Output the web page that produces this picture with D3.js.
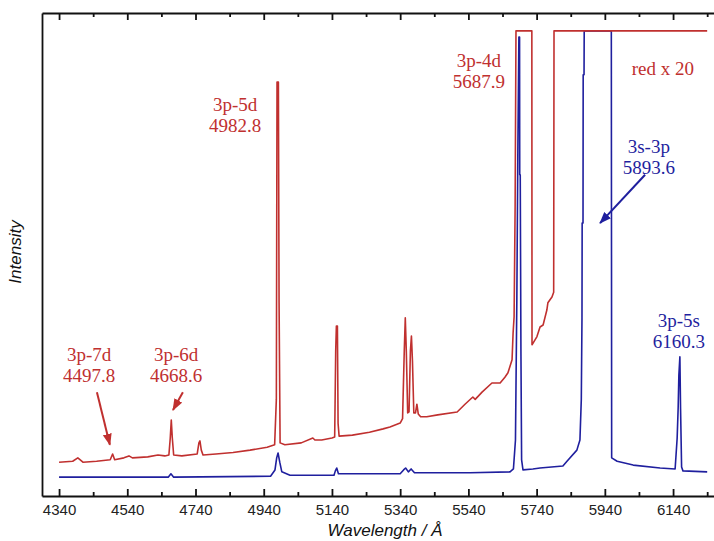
<!DOCTYPE html>
<html>
<head>
<meta charset="utf-8">
<script src="https://cdn.jsdelivr.net/npm/d3@7"></script>
<style>
  html, body { margin: 0; padding: 0; background: #fff; }
  svg { display: block; }
  .tick text { font-family: "Liberation Sans", Arial, sans-serif; font-size: 15px; fill: #222; }
  .note { font-family: "Liberation Serif", "Times New Roman", serif; font-size: 19px; }
</style>
</head>
<body>
<svg id="chart" width="714" height="541"></svg>
<script>
// axis ticks (Angstrom)
const majorTicks = [4340, 4540, 4740, 4940, 5140, 5340, 5540, 5740, 5940, 6140];
const minorTicks = [4440, 4640, 4840, 5040, 5240, 5440, 5640, 5840, 6040, 6240];

// blue spectrum: [wavelength, intensity]
const blueSpectrum = [
  [4340, 3.9], [4660, 3.9], [4668, 4.6], [4676, 3.9], [4960, 4.1], [4973, 5.4],
  [4978, 7.9], [4982, 8.9], [4987, 7.0], [4993, 5.0], [5017, 4.3], [5146, 4.3],
  [5150, 5.2], [5154, 5.8], [5159, 4.6], [5340, 4.6], [5350, 5.4], [5356, 5.8],
  [5364, 5.0], [5372, 5.6], [5382, 4.8], [5400, 4.8], [5545, 4.8], [5662, 5.0],
  [5672, 5.6], [5678, 11.6], [5682, 40.6], [5685, 71.6], [5688, 95.0], [5690, 95.0],
  [5690.5, 66.5], [5692, 66.5], [5694, 30], [5696, 7.5], [5700, 5.4], [5729, 5.6],
  [5750, 5.8], [5817, 6.2], [5829, 7.2], [5858, 9.5], [5867, 11.6], [5871, 20],
  [5873, 37], [5873.5, 56.5], [5876, 56.5], [5876.5, 87.2], [5879, 87.2], [5879.5, 96.3],
  [5959, 96.3], [5960, 7.9], [5976, 7.2], [6023, 6.4], [6102, 5.8], [6146, 5.6],
  [6152, 12], [6155, 18.4], [6157, 25], [6160, 28.8], [6162, 18], [6165, 6],
  [6169, 5.2], [6240, 5.0]
];

// red spectrum (x 20): [wavelength, intensity]
const redSpectrum = [
  [4340, 7.0], [4380, 7.2], [4395, 7.9], [4410, 7.0], [4450, 7.2], [4490, 7.5],
  [4497, 8.7], [4503, 7.5], [4530, 7.9], [4545, 8.3], [4555, 7.9], [4600, 8.1],
  [4630, 8.5], [4650, 8.3], [4662, 8.5], [4666, 12], [4669, 15.7], [4672, 12],
  [4676, 8.5], [4700, 8.3], [4745, 8.7], [4750, 11], [4753, 11.4], [4757, 9.5],
  [4762, 8.5], [4800, 8.7], [4850, 9.0], [4900, 9.5], [4950, 10.1], [4972, 10.6],
  [4977, 20], [4979, 85.7], [4983, 85.7], [4985, 40], [4988, 11], [5002, 10.6],
  [5050, 11.0], [5084, 12.0], [5090, 11.6], [5110, 11.6], [5140, 12.0], [5148, 12.2],
  [5151, 30], [5153, 35.2], [5156, 35.2], [5158, 15], [5161, 12.4], [5200, 12.6],
  [5250, 13.2], [5290, 13.9], [5310, 14.3], [5340, 15.1], [5347, 16], [5352, 30],
  [5355, 36.9], [5358, 30], [5362, 17.2], [5366, 17.4], [5370, 30], [5373, 33.1],
  [5376, 28], [5380, 17.2], [5385, 17.2], [5389, 19.0], [5393, 17], [5400, 16.4],
  [5418, 16.4], [5450, 16.8], [5507, 17.4], [5530, 19], [5553, 20.5], [5560, 20],
  [5580, 21.5], [5609, 23.4], [5633, 23.4], [5647, 24.6], [5656, 25.5], [5668, 28.2],
  [5671, 33.7], [5674, 37.1], [5677, 60], [5679.5, 96.3], [5726, 96.3], [5726.5, 31.3],
  [5741, 33.0], [5750, 35.0], [5759, 35.4], [5770, 38.5], [5773, 40], [5785, 41.2],
  [5790, 42.2], [5791, 96.3], [6240, 96.3]
];

const redColor = "#c0302f";
const blueColor = "#1f1f9e";

const svg = d3.select("#chart");
const frame = { left: 42, right: 714, top: 13, bottom: 496 };

const x = d3.scaleLinear().domain([4290, 6260]).range([frame.left, frame.right]);
const y = d3.scaleLinear().domain([0, 100]).range([frame.bottom, frame.top]);

const line = d3.line()
  .x(d => x(d[0]))
  .y(d => y(d[1]));

// traces
svg.append("path")
  .datum(blueSpectrum)
  .attr("d", line)
  .attr("fill", "none")
  .attr("stroke", blueColor)
  .attr("stroke-width", 1.6)
  .attr("stroke-linejoin", "round");

svg.append("path")
  .datum(redSpectrum)
  .attr("d", line)
  .attr("fill", "none")
  .attr("stroke", redColor)
  .attr("stroke-width", 1.6)
  .attr("stroke-linejoin", "round");

// axes, ticks point inward
const bottomAxis = svg.append("g")
  .attr("transform", "translate(0," + frame.bottom + ")")
  .call(d3.axisBottom(x).tickValues(majorTicks).tickSize(-7).tickSizeOuter(0).tickPadding(8).tickFormat(d3.format("d")));
svg.append("g")
  .attr("transform", "translate(0," + frame.bottom + ")")
  .call(d3.axisBottom(x).tickValues(minorTicks).tickSize(-4).tickSizeOuter(0).tickFormat(""))
  .select(".domain").remove();

svg.append("g")
  .attr("transform", "translate(0," + frame.top + ")")
  .call(d3.axisTop(x).tickValues(majorTicks).tickSize(-7).tickSizeOuter(0).tickFormat(""));
svg.append("g")
  .attr("transform", "translate(0," + frame.top + ")")
  .call(d3.axisTop(x).tickValues(minorTicks).tickSize(-4).tickSizeOuter(0).tickFormat(""))
  .select(".domain").remove();

svg.append("g")
  .attr("transform", "translate(" + frame.left + ",0)")
  .call(d3.axisLeft(y).tickValues([]).tickSizeOuter(0));

svg.selectAll(".domain, .tick line").attr("stroke", "#111").attr("stroke-width", 1.8);

// axis titles
svg.append("text")
  .attr("x", 385)
  .attr("y", 536)
  .attr("text-anchor", "middle")
  .attr("font-family", "Liberation Sans, Arial, sans-serif")
  .attr("font-style", "italic")
  .attr("font-size", 17)
  .attr("fill", "#111")
  .text("Wavelength / Å");

svg.append("text")
  .attr("transform", "translate(21,252)rotate(-90)")
  .attr("text-anchor", "middle")
  .attr("font-family", "Liberation Sans, Arial, sans-serif")
  .attr("font-style", "italic")
  .attr("font-size", 17)
  .attr("fill", "#111")
  .text("Intensity");

// annotations (position in data units)
const notes = [
  { lines: ["3p-7d", "4497.8"], at: [4428, 27.9], color: redColor },
  { lines: ["3p-6d", "4668.6"], at: [4683, 27.9], color: redColor },
  { lines: ["3p-5d", "4982.8"], at: [4856, 79.7], color: redColor },
  { lines: ["3p-4d", "5687.9"], at: [5571, 88.8], color: redColor },
  { lines: ["red x 20"], at: [6110, 87.2], color: redColor },
  { lines: ["3s-3p", "5893.6"], at: [6069, 71.0], color: blueColor },
  { lines: ["3p-5s", "6160.3"], at: [6157, 35.0], color: blueColor }
];

notes.forEach(n => {
  const t = svg.append("text")
    .attr("class", "note")
    .attr("text-anchor", "middle")
    .attr("fill", n.color);
  n.lines.forEach((s, i) => {
    t.append("tspan")
      .attr("x", x(n.at[0]))
      .attr("y", y(n.at[1]) + i * 21)
      .text(s);
  });
});

// arrows
const defs = svg.append("defs");
[["red", redColor], ["blue", blueColor]].forEach(([id, c]) => {
  defs.append("marker")
    .attr("id", "head-" + id)
    .attr("viewBox", "0 -5 12 10")
    .attr("refX", 11)
    .attr("refY", 0)
    .attr("markerUnits", "userSpaceOnUse")
    .attr("markerWidth", 12)
    .attr("markerHeight", 10)
    .attr("orient", "auto")
    .append("path")
    .attr("d", "M0,-4.5L12,0L0,4.5Z")
    .attr("fill", c);
});

const arrows = [
  { from: [4451, 21.5], to: [4489, 10.6], id: "red", color: redColor },
  { from: [4703, 21.5], to: [4674, 17.8], id: "red", color: redColor },
  { from: [6058, 66.5], to: [5926, 56.5], id: "blue", color: blueColor }
];

arrows.forEach(a => {
  svg.append("line")
    .attr("x1", x(a.from[0])).attr("y1", y(a.from[1]))
    .attr("x2", x(a.to[0])).attr("y2", y(a.to[1]))
    .attr("stroke", a.color)
    .attr("stroke-width", 2)
    .attr("marker-end", "url(#head-" + a.id + ")");
});
</script>
</body>
</html>
